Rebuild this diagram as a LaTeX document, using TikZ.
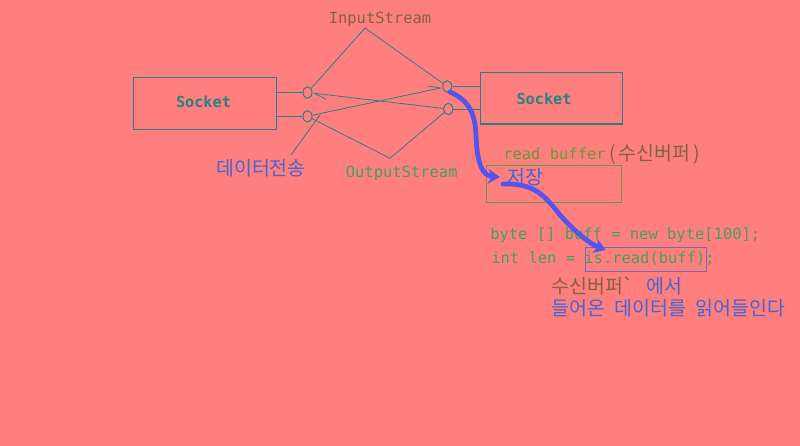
\documentclass[tikz,border=0pt]{standalone}
\usepackage{fontspec}
\usetikzlibrary{shapes.geometric,arrows.meta}
\newfontfamily\monof{DejaVu Sans Mono}
\newfontfamily\krf[WordSpace={2.2}]{Noto Sans CJK KR}
\definecolor{bg}{RGB}{255,127,127}
\definecolor{tealc}{RGB}{40,128,128}
\definecolor{brn}{RGB}{128,100,60}
\definecolor{grn}{RGB}{70,160,90}
\definecolor{grnb}{RGB}{100,155,60}
\definecolor{blu}{RGB}{70,100,210}
\definecolor{thickb}{RGB}{85,85,235}
\definecolor{pur}{RGB}{110,105,205}
\begin{document}
\begin{tikzpicture}[x=0.75pt,y=-0.75pt,
  sockbox/.style={draw=tealc,line width=0.8pt,inner sep=0},
  port/.style={draw=tealc,ellipse,minimum width=6.75pt,minimum height=8.6pt,inner sep=0,line width=0.75pt},
  wire/.style={draw=tealc,line width=0.6pt},
  carrow/.style={wire,-{Straight Barb[left,length=9pt,width=7pt]}},
  mono/.style={font=\monof\fontsize{11.6}{14}\selectfont,inner sep=0},
  sockt/.style={font=\monof\bfseries\fontsize{11.4}{14}\selectfont,inner sep=0,text=tealc},
  kr/.style={font=\krf\fontsize{14.6}{17}\selectfont,inner sep=0},
  flow/.style={draw=thickb,line width=3.6pt,line cap=round,-{Stealth[length=9pt,width=11pt]}}]
\fill[bg] (0,0) rectangle (800,446);
\useasboundingbox (0,0) rectangle (800,446);
% socket boxes
\node[sockbox,minimum width=107.5pt,minimum height=39pt] (lsock) at (205,103.3) {};
\node[sockt] (lsockt) at (203.5,102) {Socket};
\node[sockbox,minimum width=106.7pt,minimum height=38.5pt] (rsock) at (551.2,98.3) {};
\node[sockt] (rsockt) at (544,99) {Socket};
% ports
\node[port] (lt) at (307.5,92.5) {};
\node[port] (lb) at (307.5,116.3) {};
\node[port] (rt) at (447.3,86.5) {};
\node[port] (rb) at (448.3,109) {};
\draw[wire] (lsock.east |- lt) -- (lt);
\draw[wire] (lsock.east |- lb) -- (lb);
\draw[wire] (rt) -- (rsock.west |- rt);
\draw[wire] (rb) -- (rsock.west |- rb);
% crossing arrows
\draw[carrow] (rb) -- (lt);
\draw[carrow] (lb) -- (rt);
% stream labels
\node[mono,text=brn] (ins) at (380,19) {InputStream};
\coordinate (insapex) at (365,28);
\draw[wire] (insapex) -- (lt);
\draw[wire] (insapex) -- (rt);
\node[mono,text=grn] (outs) at (401.7,173.5) {OutputStream};
\coordinate (outapex) at (390,158.3);
\draw[wire] (outapex) -- (lb);
\draw[wire] (outapex) -- (rb);
\node[kr,text=blu] (dt) at (261,168.5) {데이터전송};
\coordinate (dtstart) at (291,155);
\coordinate (dtend) at (320,115);
\draw[wire] (dtstart) -- (dtend);
% read buffer
\node[draw=grnb,line width=0.6pt,minimum width=101.25pt,minimum height=28pt,inner sep=0] (rbuf) at (554.2,183.7) {};
\node[mono,text=grnb,anchor=west] (rbl) at (503,154) {read buffer};
\node[kr,text=brn,anchor=west] (rblk) at (rbl.east) {\hspace{2.5pt}(\hspace{2pt}수신버퍼\hspace{2pt})};
\node[kr,text=blu] (store) at (525,177) {저장};
% code
\node[mono,text=grn,anchor=west] (code1) at (490,235) {byte [] buff = new byte[100];};
\node[mono,text=grn,anchor=west] (code2) at (491,258.5) {int len = is.read(buff);};
\node[draw=pur,line width=0.6pt,minimum width=91.3pt,minimum height=18.3pt,inner sep=0] (isbox) at (645.8,259.5) {};
\node[kr,text=brn,anchor=west] (k1) at (551,286) {수신버퍼`};
\node[kr,text=blu,anchor=west] (k2) at (646,286) {에서};
\node[kr,text=blu,anchor=west] (k3) at (551,308) {들어온 데이터를 읽어들인다};
% flows
\coordinate (f1s) at (450,92);
\coordinate (f1m) at (476,135);
\coordinate (f1e) at (500,177);
\draw[flow] (f1s) .. controls (468,100) and (475,112) .. (f1m) .. controls (477,165) and (483,176) .. (f1e);
\coordinate (f2s) at (503,184);
\coordinate (f2m) at (560,215);
\coordinate (f2e) at (606,250);
\draw[flow] (f2s) .. controls (535,183) and (545,196) .. (f2m) .. controls (575,232) and (590,244) .. (f2e);
\end{tikzpicture}
\end{document}
